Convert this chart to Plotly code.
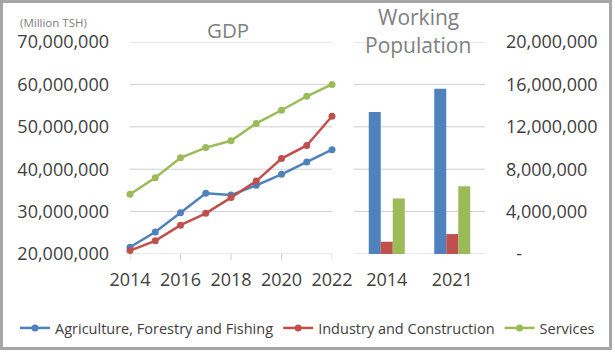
import plotly.graph_objects as go

years = [2014, 2015, 2016, 2017, 2018, 2019, 2020, 2021, 2022]
gdp_agri = [21.6e6, 25.2e6, 29.7e6, 34.3e6, 33.9e6, 36.2e6, 38.8e6, 41.7e6, 44.6e6]
gdp_ind = [20.8e6, 23.1e6, 26.8e6, 29.6e6, 33.3e6, 37.2e6, 42.5e6, 45.6e6, 52.5e6]
gdp_serv = [34.1e6, 38.0e6, 42.7e6, 45.1e6, 46.7e6, 50.8e6, 53.9e6, 57.2e6, 60.0e6]

pop_years = ["2014", "2021"]
pop_agri = [13.4e6, 15.6e6]
pop_ind = [1.16e6, 1.88e6]
pop_serv = [5.24e6, 6.4e6]

names = ["Agriculture, Forestry and Fishing", "Industry and Construction", "Services"]
colors = ["#4F81BD", "#C0504D", "#9BBB59"]

left_ticks = [20e6, 30e6, 40e6, 50e6, 60e6, 70e6]
x_ticks = [2014, 2016, 2018, 2020, 2022]
right_ticks = [0, 4e6, 8e6, 12e6, 16e6, 20e6]
right_ticktext = ["<span style='color:rgba(255,255,255,0)'>0</span>-", "4,000,000", "8,000,000",
                  "12,000,000", "16,000,000", "20,000,000"]

W, H = 615, 352
FONT = "Open Sans"
TXT = "#404040"
GRID = "#d0d0d0"

fig = go.Figure()
for vals, nm, c in zip([gdp_agri, gdp_ind, gdp_serv], names, colors):
    fig.add_trace(go.Scatter(x=years, y=vals, name=nm, mode="lines+markers",
                             line=dict(color=c, width=2.5), marker=dict(color=c, size=7),
                             xaxis="x", yaxis="y", legendgroup=nm, cliponaxis=False))
for vals, nm, c in zip([pop_agri, pop_ind, pop_serv], names, colors):
    fig.add_trace(go.Bar(x=pop_years, y=vals, name=nm, marker=dict(color=c, line=dict(width=0)),
                         xaxis="x2", yaxis="y2", showlegend=False, legendgroup=nm))

ydom = [1 - 254 / H, 1 - 42 / H]
fig.update_layout(
    template="none",
    width=W, height=H,
    margin=dict(l=0, r=0, t=0, b=0, autoexpand=False),
    paper_bgcolor="white", plot_bgcolor="white",
    font=dict(family=FONT, color=TXT, size=18),
    barmode="group", bargap=0.45, bargroupgap=0,
    xaxis=dict(domain=[130 / W, 332 / W], range=[2014, 2022], tickvals=x_ticks,
               showgrid=False, zeroline=False, showline=False, ticks="",
               ticklabelstandoff=13, tickfont=dict(size=18, color=TXT), anchor="y",
               automargin=False),
    yaxis=dict(domain=ydom, range=[20e6, 70e6], tickvals=left_ticks, tickformat=",d",
               showgrid=False, zeroline=False, showline=False,
               ticks="", ticklabelstandoff=20, tickfont=dict(size=18, color=TXT), anchor="x",
               automargin=False),
    xaxis2=dict(domain=[354 / W, 485 / W], type="category", showgrid=False, zeroline=False,
                showline=False, ticks="", ticklabelstandoff=13, tickfont=dict(size=18, color=TXT),
                anchor="y2", automargin=False),
    yaxis2=dict(domain=ydom, range=[0, 20e6], tickvals=right_ticks, ticktext=right_ticktext,
                side="right", showgrid=False, zeroline=False,
                showline=False, ticks="", ticklabelstandoff=20, tickfont=dict(size=18, color=TXT),
                anchor="x2", automargin=False),
    legend=dict(orientation="h", x=0.5, xanchor="center", y=1 - 328 / H, yanchor="middle",
                font=dict(size=14.5, color=TXT, family=FONT), bgcolor="rgba(0,0,0,0)",
                itemwidth=30, tracegroupgap=0),
    showlegend=True,
)

# gridlines at the axis tick values
for v in left_ticks:
    fig.add_shape(type="line", xref="x domain", yref="y", x0=0, x1=1, y0=v, y1=v,
                  line=dict(color=GRID, width=1), layer="below")
for v in right_ticks:
    fig.add_shape(type="line", xref="x2 domain", yref="y2", x0=0, x1=1, y0=v, y1=v,
                  line=dict(color=GRID, width=1), layer="below")
# small tick marks below the GDP axis
for v in x_ticks:
    fig.add_shape(type="line", xref="x", yref="y domain", x0=v, x1=v, y0=0, y1=-0.03,
                  line=dict(color=GRID, width=1), layer="below")

fig.add_annotation(text="GDP", x=228 / W, y=1 - 30 / H, xref="paper", yref="paper",
                   showarrow=False, font=dict(size=20.5, color="#7f7f7f", family=FONT),
                   xanchor="center", yanchor="middle")
fig.add_annotation(text="Working", x=418 / W, y=1 - 17 / H, xref="paper", yref="paper",
                   showarrow=False, font=dict(size=21, color="#7f7f7f", family=FONT),
                   xanchor="center", yanchor="middle")
fig.add_annotation(text="Population", x=418 / W, y=1 - 45 / H, xref="paper", yref="paper",
                   showarrow=False, font=dict(size=21, color="#7f7f7f", family=FONT),
                   xanchor="center", yanchor="middle")
fig.add_annotation(text="(Million TSH)", x=18 / W, y=1 - 22 / H, xref="paper", yref="paper",
                   showarrow=False, font=dict(size=11.5, color="#808080", family=FONT),
                   xanchor="left", yanchor="middle")

fig.add_shape(type="rect", xref="paper", yref="paper", x0=1.5 / W, x1=610.5 / W,
              y0=1 - 348.5 / H, y1=1 - 1.5 / H, line=dict(color="#a6a6a6", width=3),
              fillcolor="rgba(0,0,0,0)", layer="above")

fig.write_html("out.html")
